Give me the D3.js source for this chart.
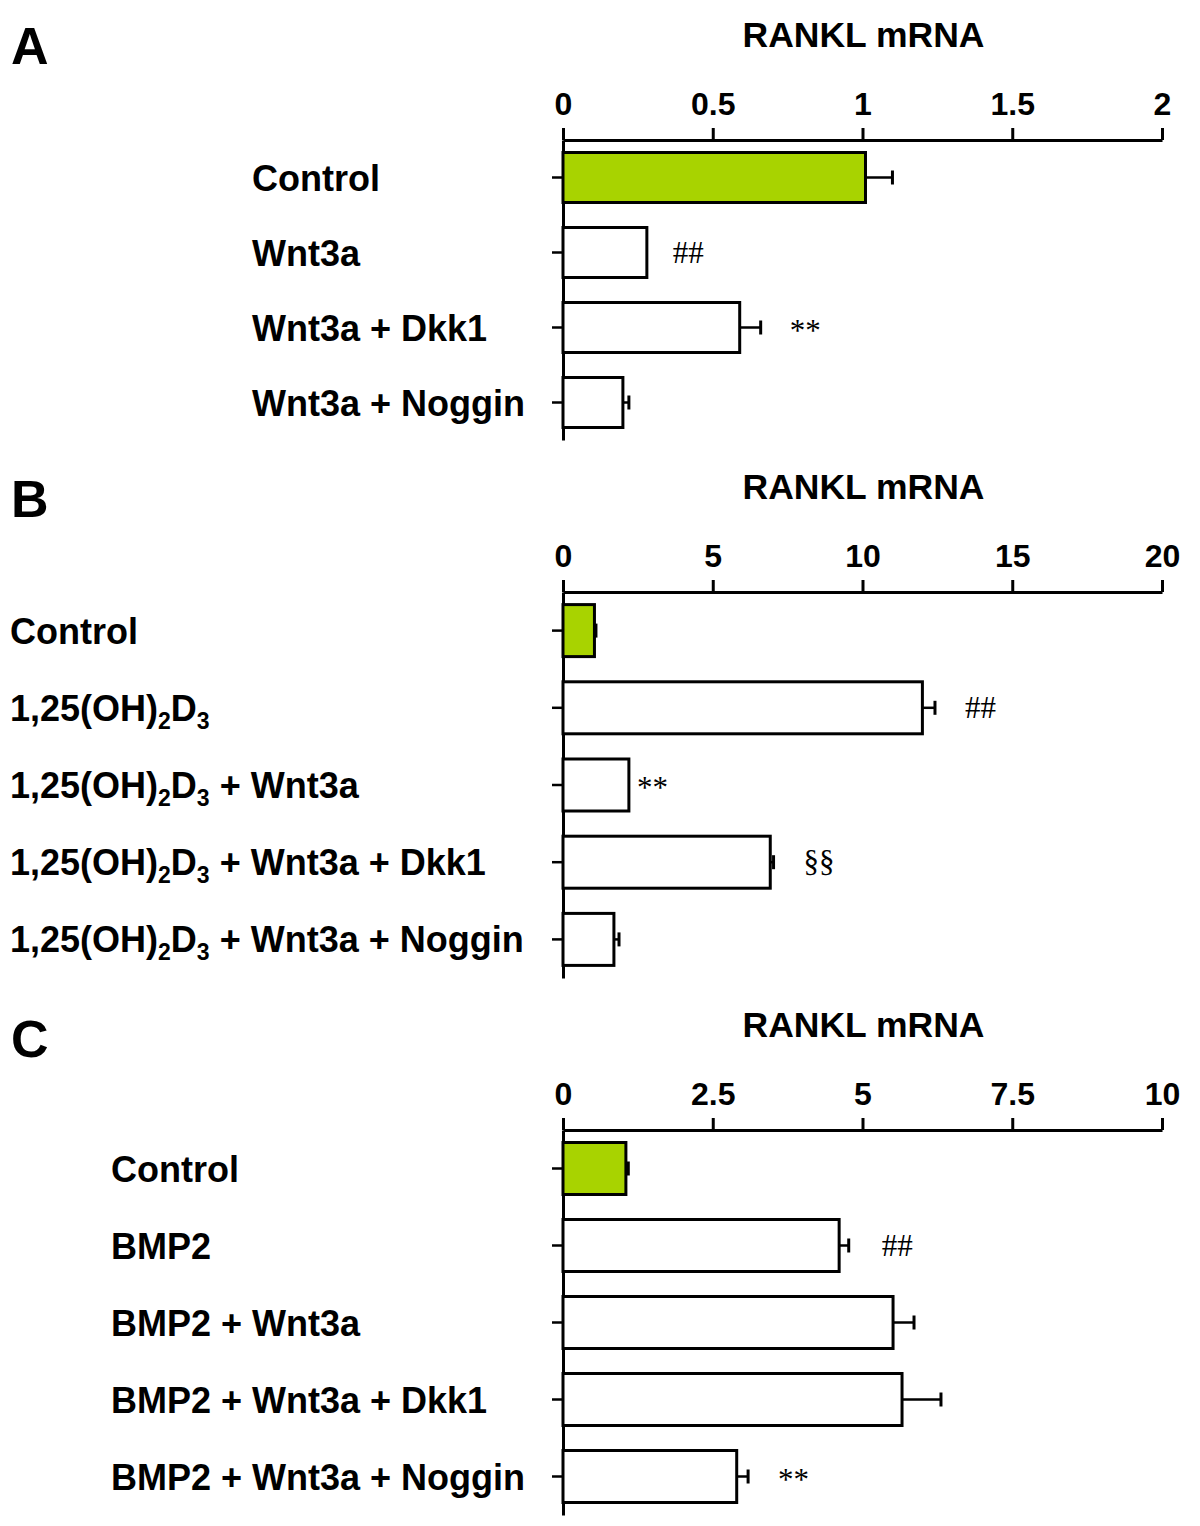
<!DOCTYPE html>
<html><head><meta charset="utf-8">
<script src="https://cdn.jsdelivr.net/npm/d3@7"></script>
<style>body{margin:0;background:#fff}svg{display:block}</style>
</head><body>
<svg id="c" width="1200" height="1526"></svg>
<script>
// ---------- data ----------
const panelLetters = ["A", "B", "C"];
const axisTitle = "RANKL mRNA";

const catsA = ["Control", "Wnt3a", "Wnt3a + Dkk1", "Wnt3a + Noggin"];
const valsA = [1.01, 0.28, 0.59, 0.20];
const errsA = [0.09, 0.0, 0.07, 0.02];
const marksA = ["", "##", "**", ""];
const ticksA = [0, 0.5, 1, 1.5, 2];

const catsB = ["Control", "D3", "D3 + Wnt3a", "D3 + Wnt3a + Dkk1", "D3 + Wnt3a + Noggin"];
const valsB = [1.05, 12.0, 2.2, 6.92, 1.7];
const errsB = [0.05, 0.42, 0.0, 0.11, 0.17];
const marksB = ["", "##", "**", "§§", ""];
const ticksB = [0, 5, 10, 15, 20];

const catsC = ["Control", "BMP2", "BMP2 + Wnt3a", "BMP2 + Wnt3a + Dkk1", "BMP2 + Wnt3a + Noggin"];
const valsC = [1.05, 4.61, 5.51, 5.66, 2.90];
const errsC = [0.04, 0.16, 0.35, 0.65, 0.19];
const marksC = ["", "##", "", "", "**"];
const ticksC = [0, 2.5, 5, 7.5, 10];

// ---------- layout ----------
const svg = d3.select("#c");
const FONT = "'Liberation Sans', Arial, Helvetica, sans-serif";
const SERIF = "'Liberation Serif', 'Times New Roman', serif";
const GREEN = "#a8d300";

const panels = [
  {letter: panelLetters[0], cats: catsA, vals: valsA, errs: errsA, marks: marksA, ticks: ticksA,
   axisY: 140, bottom: 440, barH: 50, labelX: 252, letterY: 64, markGap: [0, 26, 29, 0]},
  {letter: panelLetters[1], cats: catsB, vals: valsB, errs: errsB, marks: marksB, ticks: ticksB,
   axisY: 592, bottom: 978, barH: 52, labelX: 10, letterY: 517, markGap: [0, 30, 8, 30, 0]},
  {letter: panelLetters[2], cats: catsC, vals: valsC, errs: errsC, marks: marksC, ticks: ticksC,
   axisY: 1130, bottom: 1515, barH: 52, labelX: 111, letterY: 1057, markGap: [0, 33, 0, 0, 30]}
];

const X0 = 563, X1 = 1162;

function writeLabel(t, label) {
  if (label.startsWith("D3")) {
    const rest = label.slice(2);
    t.append("tspan").text("1,25(OH)");
    t.append("tspan").attr("font-size", 23).attr("dy", 8).text("2");
    t.append("tspan").attr("dy", -8).text("D");
    t.append("tspan").attr("font-size", 23).attr("dy", 8).text("3");
    t.append("tspan").attr("dy", -8).text(rest);
  } else {
    t.text(label);
  }
}

panels.forEach(p => {
  const g = svg.append("g");
  const x = d3.scaleLinear().domain([p.ticks[0], p.ticks[p.ticks.length - 1]]).range([X0, X1]);
  const y = d3.scaleBand().domain(p.cats).range([p.axisY, p.bottom]);

  // panel letter
  g.append("text").attr("x", 11).attr("y", p.letterY).attr("font-family", FONT)
    .attr("font-weight", "bold").attr("font-size", 52).text(p.letter);

  // title
  g.append("text").attr("x", (X0 + X1) / 2 + 1).attr("y", p.axisY - 93).attr("text-anchor", "middle")
    .attr("font-family", FONT).attr("font-weight", "bold").attr("font-size", 35.5).text(axisTitle);

  // top axis
  const ax = d3.axisTop(x).tickValues(p.ticks).tickSize(12).tickSizeOuter(0).tickPadding(13)
    .tickFormat(d => String(d));
  const axG = g.append("g").attr("transform", `translate(0,${p.axisY})`).call(ax);
  axG.select(".domain").attr("stroke", "#000").attr("stroke-width", 3);
  axG.selectAll(".tick line").attr("stroke", "#000").attr("stroke-width", 3);
  axG.selectAll(".tick text").attr("font-family", FONT).attr("font-weight", "bold")
    .attr("font-size", 32).attr("fill", "#000");

  // left axis
  const ay = d3.axisLeft(y).tickSize(11).tickSizeOuter(0).tickFormat("");
  const ayG = g.append("g").attr("transform", `translate(${X0},0)`).call(ay);
  ayG.select(".domain").attr("stroke", "#000").attr("stroke-width", 3);
  ayG.selectAll(".tick line").attr("stroke", "#000").attr("stroke-width", 2.5);

  // category labels
  p.cats.forEach(c => {
    const t = g.append("text").attr("x", p.labelX).attr("y", y(c) + y.bandwidth() / 2 + 13)
      .attr("font-family", FONT).attr("font-weight", "bold").attr("font-size", 36).attr("fill", "#000");
    writeLabel(t, c);
  });

  // error bars
  p.cats.forEach((c, i) => {
    const cy = y(c) + y.bandwidth() / 2;
    if (p.errs[i] > 0) {
      g.append("line").attr("x1", x(p.vals[i])).attr("x2", x(p.vals[i] + p.errs[i]))
        .attr("y1", cy).attr("y2", cy).attr("stroke", "#000").attr("stroke-width", 2.5);
      g.append("line").attr("x1", x(p.vals[i] + p.errs[i])).attr("x2", x(p.vals[i] + p.errs[i]))
        .attr("y1", cy - 7).attr("y2", cy + 7).attr("stroke", "#000").attr("stroke-width", 3);
    }
  });

  // bars
  g.selectAll("rect.bar").data(p.cats).join("rect").attr("class", "bar")
    .attr("x", x(0)).attr("y", d => y(d) + (y.bandwidth() - p.barH) / 2)
    .attr("width", (d, i) => x(p.vals[i]) - x(0)).attr("height", p.barH)
    .attr("fill", (d, i) => i === 0 ? GREEN : "#fff").attr("stroke", "#000").attr("stroke-width", 3);

  // significance marks
  p.cats.forEach((c, i) => {
    if (!p.marks[i]) return;
    const cy = y(c) + y.bandwidth() / 2;
    const isStar = p.marks[i] === "**";
    g.append("text").attr("x", x(p.vals[i] + p.errs[i]) + p.markGap[i])
      .attr("y", cy + (isStar ? 13 : 10)).attr("font-family", SERIF)
      .attr("font-size", isStar ? 31 : 31).attr("fill", "#000").text(p.marks[i]);
  });
});
</script>
</body></html>
